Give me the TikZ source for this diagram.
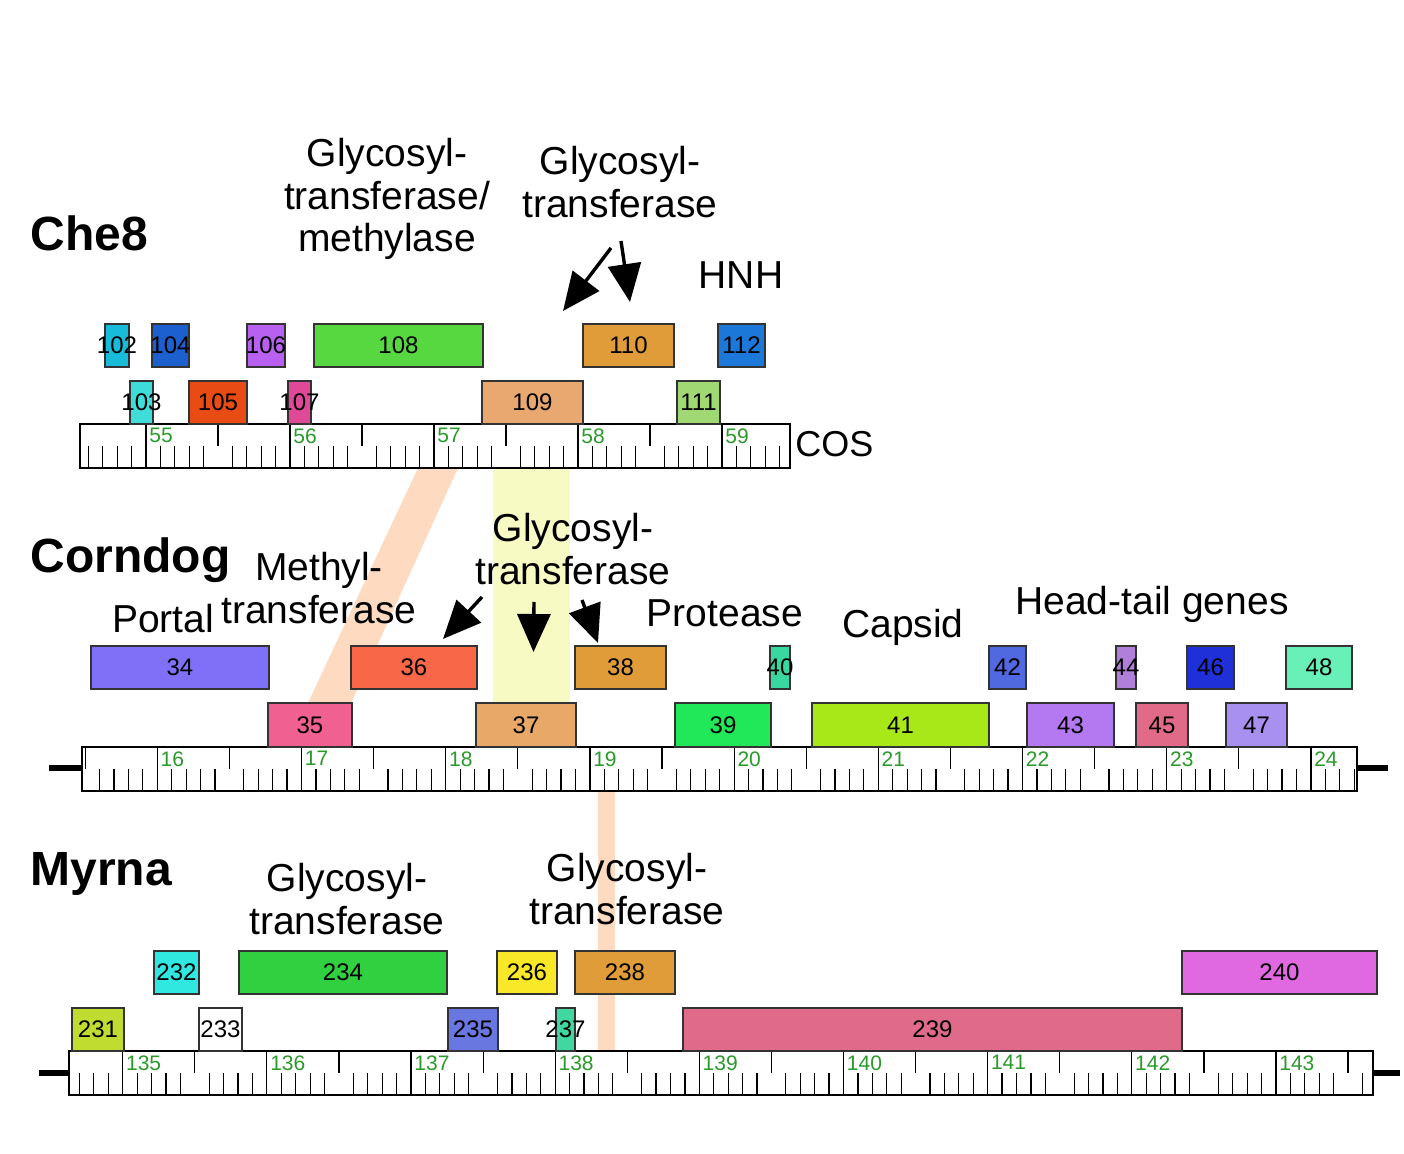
\documentclass[tikz,border=0pt]{standalone}
\usepackage{fontspec}
\setmainfont{Liberation Sans}
\usetikzlibrary{arrows.meta}
\definecolor{peach}{HTML}{FDDAC0}
\definecolor{lemon}{HTML}{F8FAC4}
\definecolor{rulergreen}{HTML}{2A9A2A}
\definecolor{c102}{HTML}{18BCD8}
\definecolor{c104}{HTML}{1C60D0}
\definecolor{c106}{HTML}{B860F0}
\definecolor{c108}{HTML}{58D840}
\definecolor{c103}{HTML}{40DCD8}
\definecolor{c105}{HTML}{E84C14}
\definecolor{c107}{HTML}{E04898}
\definecolor{c109}{HTML}{E8A870}
\definecolor{c110}{HTML}{E09C38}
\definecolor{c112}{HTML}{1C78D8}
\definecolor{c111}{HTML}{A0D874}
\definecolor{c34}{HTML}{8070F8}
\definecolor{c35}{HTML}{F06090}
\definecolor{c36}{HTML}{F86848}
\definecolor{c37}{HTML}{E8A868}
\definecolor{c38}{HTML}{E09C38}
\definecolor{c39}{HTML}{20E858}
\definecolor{c40}{HTML}{38D8A0}
\definecolor{c41}{HTML}{A8E818}
\definecolor{c42}{HTML}{5068E0}
\definecolor{c43}{HTML}{B478F0}
\definecolor{c44}{HTML}{B080D8}
\definecolor{c45}{HTML}{E06A88}
\definecolor{c46}{HTML}{2030D8}
\definecolor{c47}{HTML}{A890F0}
\definecolor{c48}{HTML}{68F0B8}
\definecolor{c231}{HTML}{C0DC30}
\definecolor{c232}{HTML}{30E8E0}
\definecolor{c233}{HTML}{FFFFFF}
\definecolor{c234}{HTML}{30D040}
\definecolor{c235}{HTML}{6878E0}
\definecolor{c236}{HTML}{F8E828}
\definecolor{c237}{HTML}{40D8A0}
\definecolor{c238}{HTML}{E09C38}
\definecolor{c239}{HTML}{E06A8A}
\definecolor{c240}{HTML}{E068E0}
\tikzset{
  gene/.style={draw=black!80, line width=0.7pt, inner sep=0pt, font=\fontsize{12}{12}\selectfont},
  tickline/.style={line width=0.6pt},
  rframe/.style={line width=1.4pt, fill=white},
  rlab/.style={anchor=north west, inner sep=0pt, text=rulergreen, font=\fontsize{10.5}{10.5}\selectfont},
  big/.style={align=center, anchor=north, inner sep=0pt, font=\fontsize{19.5}{21.25}\selectfont},
  title/.style={anchor=north west, inner sep=0pt, font=\fontsize{24}{24}\selectfont\bfseries},
  stubline/.style={line width=2.8pt},
  bigarrow/.style={line width=1.7pt, -{Triangle[length=19pt,width=16.5pt]}}
}
% gene: #1 label, #2 x1, #3 x2, #4 y1, #5 y2
\newcommand\gene[5]{\node[gene, fill=c#1, minimum width={(#3-#2)*0.5pt}, minimum height={(#5-#4)*0.5pt}] (g#1) at ({(#2+#3)/2},{(#4+#5)/2}) {\makebox[0pt]{#1}};}
% ruler: #1 xL, #2 xR, #3 yT, #4 x of first label, #5 unit, #6 first label
\newcommand\ruler[6]{%
  \draw[rframe] (#1,#3) rectangle (#2,#3+44);
  \foreach \i in {-10,...,100} {
    \pgfmathsetmacro\xx{#4+\i*#5/10}
    \pgfmathtruncatemacro\mm{mod(\i+100,10)}
    \pgfmathtruncatemacro\ok{and(\xx>#1+2,\xx<#2-2)}
    \ifnum\ok=1
      \ifnum\mm=0
        \draw[tickline] (\xx,#3) -- (\xx,#3+44);
        \pgfmathtruncatemacro\lab{#6+\i/10}
        \node[rlab] (r\lab) at (\xx+3,#3+4) {\lab};
      \else\ifnum\mm=5
        \draw[tickline] (\xx,#3) -- (\xx,#3+22);
      \else
        \draw[tickline] (\xx,#3+22) -- (\xx,#3+44);
      \fi\fi
    \fi
  }
  \draw[line width=1.4pt] (#1,#3) rectangle (#2,#3+44);
}
\begin{document}
\begin{tikzpicture}[x=0.5pt,y=-0.5pt]
\useasboundingbox[fill=white] (0,0) rectangle (1404,1154);
% highlight bands
\fill[peach] (418,468) -- (458,468) -- (351,703) -- (308,703) -- cycle;
\fill[lemon] (493,468) rectangle (570,703);
\fill[peach] (598,790) rectangle (615,1051);
% stubs
\coordinate (cL) at (49,768); \coordinate (cR) at (1388,768);
\coordinate (mL) at (39,1073); \coordinate (mR) at (1400,1073);
\draw[stubline] (cL) -- (82,768);
\draw[stubline] (1357,768) -- (cR);
\draw[stubline] (mL) -- (69,1073);
\draw[stubline] (1373,1073) -- (mR);
% rulers
\ruler{80}{790}{424}{146}{144}{55}
\ruler{82}{1357}{747}{157.3}{144.2}{16}
\ruler{69}{1373}{1051}{122.7}{144.16}{135}
% Che8 genes
\gene{102}{105}{129}{324}{367}
\gene{104}{152}{189}{324}{367}
\gene{106}{247}{285}{324}{367}
\gene{108}{314}{483}{324}{367}
\gene{110}{583}{674}{324}{367}
\gene{112}{718}{765}{324}{367}
\gene{103}{130}{153}{381}{424}
\gene{105}{189}{247}{381}{424}
\gene{107}{288}{311}{381}{424}
\gene{109}{482}{583}{381}{424}
\gene{111}{677}{720}{381}{424}
% Corndog genes
\gene{34}{91}{269}{646}{689}
\gene{36}{351}{477}{646}{689}
\gene{38}{575}{666}{646}{689}
\gene{40}{770}{790}{646}{689}
\gene{42}{989}{1026}{646}{689}
\gene{44}{1116}{1136}{646}{689}
\gene{46}{1187}{1234}{646}{689}
\gene{48}{1286}{1352}{646}{689}
\gene{35}{268}{352}{703}{747}
\gene{37}{476}{576}{703}{747}
\gene{39}{675}{771}{703}{747}
\gene{41}{812}{989}{703}{747}
\gene{43}{1027}{1114}{703}{747}
\gene{45}{1136}{1188}{703}{747}
\gene{47}{1226}{1287}{703}{747}
% Myrna genes
\gene{232}{154}{199}{951}{994}
\gene{234}{239}{447}{951}{994}
\gene{236}{497}{557}{951}{994}
\gene{238}{575}{675}{951}{994}
\gene{240}{1182}{1377}{951}{994}
\gene{231}{72}{124}{1008}{1051}
\gene{233}{199}{242}{1008}{1051}
\gene{235}{448}{498}{1008}{1051}
\gene{237}{556}{575}{1008}{1051}
\gene{239}{683}{1182}{1008}{1051}
% titles
\node[title] (tChe8) at (30,215) {Che8};
\node[title] (tCorndog) at (30,537) {Corndog};
\node[title] (tMyrna) at (30,852) {Myrna};
% labels
\node[big] (lA) at (387,138) {Glycosyl-\\transferase/\\methylase};
\node[big] (lB) at (620,146) {Glycosyl-\\transferase};
\node[big] (lHNH) at (741,261) {HNH};
\node[anchor=north west, inner sep=0pt, font=\fontsize{18}{18}\selectfont] (lCOS) at (795,431) {COS};
\node[big] (lC) at (573,513) {Glycosyl-\\transferase};
\node[big] (lD) at (319,552) {Methyl-\\transferase};
\node[big] (lPortal) at (163,604) {Portal};
\node[big] (lProt) at (725,599) {Protease};
\node[big] (lCaps) at (903,609) {Capsid};
\node[big] (lHT) at (1152,586) {Head-tail genes};
\node[big] (lE) at (347,863) {Glycosyl-\\transferase};
\node[big] (lF) at (627,853) {Glycosyl-\\transferase};
% arrows
\coordinate (a1s) at (611,248); \coordinate (a1e) at (563,311);
\coordinate (a2s) at (621,241); \coordinate (a2e) at (630,302);
\coordinate (a3s) at (482,597); \coordinate (a3e) at (443,639);
\coordinate (a4s) at (534,602); \coordinate (a4e) at (533.5,652);
\coordinate (a5s) at (582,600); \coordinate (a5e) at (598,643);
\draw[bigarrow] (a1s) -- (a1e);
\draw[bigarrow] (a2s) -- (a2e);
\draw[bigarrow] (a3s) -- (a3e);
\draw[bigarrow] (a4s) -- (a4e);
\draw[bigarrow] (a5s) -- (a5e);
\end{tikzpicture}
\end{document}
